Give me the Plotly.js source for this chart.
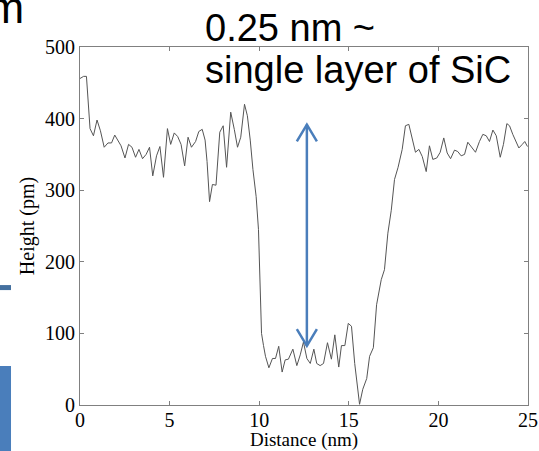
<!DOCTYPE html>
<html>
<head>
<meta charset="utf-8">
<script src="https://cdn.plot.ly/plotly-3.0.1.min.js"></script>
<style>html,body{margin:0;padding:0;background:#fff;}#chart{width:539px;height:451px;}</style>
</head>
<body>
<div id="chart"></div>
<script>
// Profile data: distance (nm) and height (pm)
const distanceNm = [0.00,0.20,0.36,0.56,0.75,0.95,1.14,1.35,1.56,1.76,1.94,2.11,2.29,2.51,2.71,2.90,3.10,3.29,3.49,3.69,3.88,4.06,4.27,4.46,4.66,4.88,5.06,5.26,5.45,5.64,5.84,6.03,6.22,6.45,6.63,6.82,6.98,7.09,7.23,7.39,7.59,7.80,7.99,8.18,8.41,8.61,8.79,8.97,9.18,9.34,9.50,9.65,9.83,9.96,10.04,10.13,10.24,10.35,10.54,10.74,10.91,11.09,11.28,11.45,11.63,11.88,12.10,12.29,12.47,12.66,12.85,13.05,13.21,13.40,13.59,13.81,14.03,14.22,14.44,14.59,14.78,14.97,15.15,15.33,15.60,15.78,16.00,16.16,16.37,16.55,16.81,16.99,17.18,17.37,17.55,17.75,17.98,18.16,18.35,18.52,18.72,18.91,19.10,19.32,19.50,19.69,19.91,20.10,20.30,20.49,20.68,20.90,21.08,21.27,21.46,21.64,21.89,22.07,22.29,22.48,22.67,22.85,23.04,23.23,23.45,23.63,23.82,23.97,24.15,24.34,24.49,24.68,24.82,24.97];
const heightPm = [456,459,459,386,376,398,383,360,366,366,377,370,362,345,364,360,346,357,344,350,360,320,348,361,318,386,364,380,375,364,334,374,360,368,382,385,370,340,284,308,307,381,390,332,409,385,360,374,420,404,370,329,291,245,170,100,83,68,52,65,65,82,46,63,64,78,55,70,88,65,58,78,58,55,58,87,64,98,53,83,83,114,110,58,1,22,37,68,80,140,175,189,240,272,315,332,357,390,392,373,353,357,347,326,362,343,345,353,373,352,344,356,354,348,350,367,358,353,368,378,376,368,384,376,346,364,393,390,378,366,359,364,368,361];

const xTicks = [0,5,10,15,20,25];
const yTicks = [0,100,200,300,400,500];

// Double arrow annotation (data units)
const arrowX = 12.66;
const arrowTop = 391.6;
const arrowBottom = 82.5;
const headDx = 0.56;
const headDy = 23.5;

const arrowColor = '#4a7ebb';
const shapes = [
  {type:'line', xref:'x', yref:'y', x0:arrowX, x1:arrowX, y0:arrowBottom, y1:arrowTop, line:{color:arrowColor, width:2.5}},
  {type:'path', xref:'x', yref:'y',
   path:`M ${arrowX-headDx},${arrowTop-headDy} L ${arrowX},${arrowTop} L ${arrowX+headDx},${arrowTop-headDy}`,
   line:{color:arrowColor, width:2.5}},
  {type:'path', xref:'x', yref:'y',
   path:`M ${arrowX-headDx},${arrowBottom+headDy} L ${arrowX},${arrowBottom} L ${arrowX+headDx},${arrowBottom+headDy}`,
   line:{color:arrowColor, width:2.5}},
  // slide fragments at the left edge
  {type:'rect', xref:'paper', yref:'paper', x0:-0.1786, x1:-0.154, y0:0.321, y1:0.335, line:{width:0}, fillcolor:'#44709f'},
  {type:'rect', xref:'paper', yref:'paper', x0:-0.1786, x1:-0.154, y0:-0.13, y1:0.109, line:{width:0}, fillcolor:'#4a7ebb'}
];

const serifFamily = '"Liberation Serif", "Times New Roman", serif';
const tickFont = {family:serifFamily, size:20, color:'#000'};
const xTitleFont = {family:serifFamily, size:19, color:'#000'};
const yTitleFont = {family:serifFamily, size:20, color:'#000'};
const sans = {family:'"Liberation Sans", Arial, sans-serif', size:38, color:'#000'};

const trace = {
  x: distanceNm, y: heightPm, type:'scatter', mode:'lines',
  line:{color:'#555555', width:1}, hoverinfo:'skip'
};

const axisCommon = {
  showline:true, linecolor:'#808080', linewidth:1, mirror:'ticks',
  ticks:'inside', ticklen:4, tickcolor:'#808080', tickwidth:1,
  showgrid:false, zeroline:false, tickfont:tickFont
};

const layout = {
  width:539, height:451,
  margin:{l:80, r:11, t:47, b:46, pad:0},
  paper_bgcolor:'#fff', plot_bgcolor:'#fff',
  showlegend:false,
  xaxis:Object.assign({}, axisCommon, {
    range:[0,25], tickvals:xTicks, ticktext:xTicks.map(String),
    ticklabelstandoff:-3,
    title:{text:'Distance (nm)', font:xTitleFont, standoff:4}
  }),
  yaxis:Object.assign({}, axisCommon, {
    range:[0,500], tickvals:yTicks, ticktext:yTicks.map(String),
    title:{text:'Height (pm)', font:yTitleFont, standoff:5}
  }),
  shapes: shapes,
  annotations:[
    {xref:'paper', yref:'paper', x:(203-80)/448, y:1+(47-28)/358, xanchor:'left', yanchor:'middle',
     text:'0.25 nm ~', showarrow:false, font:sans},
    {xref:'paper', yref:'paper', x:(203-80)/448, y:1+(47-70)/358, xanchor:'left', yanchor:'middle',
     text:'single layer of SiC', showarrow:false, font:sans},
    {xref:'paper', yref:'paper', x:(26-80)/448, y:1+(47-8)/358, xanchor:'right', yanchor:'middle',
     text:'nm', showarrow:false, font:{family:sans.family, size:44, color:'#000'}}
  ]
};

Plotly.newPlot('chart', [trace], layout, {displayModeBar:false, staticPlot:true});
</script>
</body>
</html>
